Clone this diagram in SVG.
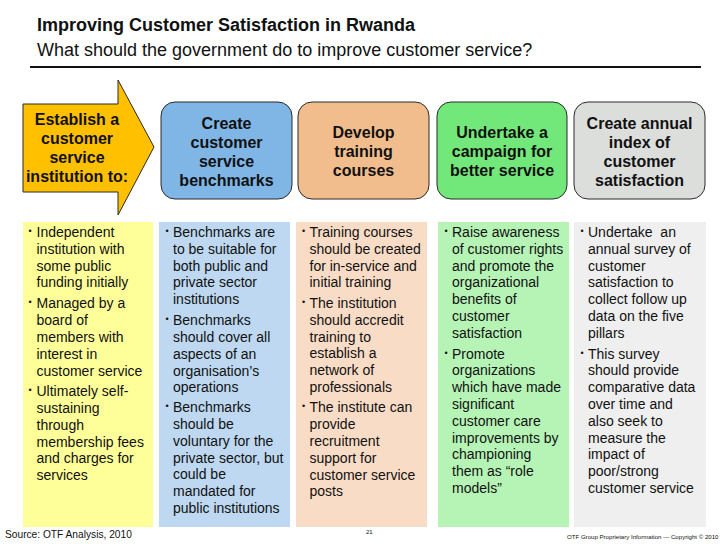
<svg xmlns="http://www.w3.org/2000/svg" width="728" height="546" viewBox="0 0 728 546">
<style>
.title{font-family:"Liberation Sans",Arial,sans-serif;font-size:18px;font-weight:bold;fill:#111}
.sub{font-family:"Liberation Sans",Arial,sans-serif;font-size:18px;fill:#111}
.hd{font-family:"Liberation Sans",Arial,sans-serif;font-size:16px;font-weight:bold;fill:#111;text-anchor:middle}
.bd{font-family:"Liberation Sans",Arial,sans-serif;font-size:14px;fill:#111}
.bl{font-family:"Liberation Sans",Arial,sans-serif;font-size:9px;fill:#111}
.box{stroke:#2a2a2a;stroke-width:1}
.foot{font-family:"Liberation Sans",Arial,sans-serif;fill:#111}
</style>
<rect width="728" height="546" fill="#fff"/>
<g id="header">
<text class="title" x="37" y="31">Improving Customer Satisfaction in Rwanda</text>
<text class="sub" x="37" y="56">What should the government do to improve customer service?</text>
<line x1="30" y1="67" x2="701" y2="67" stroke="#111" stroke-width="2"/>
</g>
<g id="connectors"/>
<g id="node-establish">
<polygon class="box" points="23,104 118,104 118,80 154,147 118,215 118,192 23,192" fill="#FFC000"/>
<text class="hd" x="77"><tspan x="77" y="124.5">Establish a</tspan><tspan x="77" y="143.5">customer</tspan><tspan x="77" y="162.5">service</tspan><tspan x="77" y="181.5">institution to:</tspan></text>
</g>
<g id="node-benchmarks">
<rect class="box" x="161" y="102" width="131" height="97" rx="14" fill="#7FB6E6"/>
<text class="hd"><tspan x="226.5" y="128.5">Create</tspan><tspan x="226.5" y="147.8">customer</tspan><tspan x="226.5" y="167">service</tspan><tspan x="226.5" y="186.3">benchmarks</tspan></text>
</g>
<g id="node-training">
<rect class="box" x="298" y="102" width="131" height="97" rx="14" fill="#F1BD8D"/>
<text class="hd"><tspan x="363.5" y="138">Develop</tspan><tspan x="363.5" y="157">training</tspan><tspan x="363.5" y="176">courses</tspan></text>
</g>
<g id="node-campaign">
<rect class="box" x="437" y="102" width="130" height="97" rx="14" fill="#73E87A"/>
<text class="hd"><tspan x="502" y="138">Undertake a</tspan><tspan x="502" y="157">campaign for</tspan><tspan x="502" y="176">better service</tspan></text>
</g>
<g id="node-index">
<rect class="box" x="574" y="102" width="131" height="97" rx="14" fill="#DCDEDC"/>
<text class="hd"><tspan x="639.5" y="128.5">Create annual</tspan><tspan x="639.5" y="147.8">index of</tspan><tspan x="639.5" y="167">customer</tspan><tspan x="639.5" y="186.3">satisfaction</tspan></text>
</g>
<g id="col-establish">
<rect x="23" y="222" width="130" height="305" fill="#FFFF99"/>
<text class="bl" x="28.5" y="234">•</text>
<text class="bd"><tspan x="36.5" y="237">Independent</tspan><tspan x="36.5" dy="16.8">institution with</tspan><tspan x="36.5" dy="16.8">some public</tspan><tspan x="36.5" dy="16.8">funding initially</tspan></text>
<text class="bl" x="28.5" y="305.4">•</text>
<text class="bd"><tspan x="36.5" y="308.4">Managed by a</tspan><tspan x="36.5" dy="16.8">board of</tspan><tspan x="36.5" dy="16.8">members with</tspan><tspan x="36.5" dy="16.8">interest in</tspan><tspan x="36.5" dy="16.8">customer service</tspan></text>
<text class="bl" x="28.5" y="393.2">•</text>
<text class="bd"><tspan x="36.5" y="396.2">Ultimately self-</tspan><tspan x="36.5" dy="16.8">sustaining</tspan><tspan x="36.5" dy="16.8">through</tspan><tspan x="36.5" dy="16.8">membership fees</tspan><tspan x="36.5" dy="16.8">and charges for</tspan><tspan x="36.5" dy="16.8">services</tspan></text>
</g>
<g id="col-benchmarks">
<rect x="159" y="222" width="131" height="305" fill="#BDD8F0"/>
<text class="bl" x="165.5" y="234">•</text>
<text class="bd"><tspan x="173" y="237">Benchmarks are</tspan><tspan x="173" dy="16.8">to be suitable for</tspan><tspan x="173" dy="16.8">both public and</tspan><tspan x="173" dy="16.8">private sector</tspan><tspan x="173" dy="16.8">institutions</tspan></text>
<text class="bl" x="165.5" y="322.2">•</text>
<text class="bd"><tspan x="173" y="325.2">Benchmarks</tspan><tspan x="173" dy="16.8">should cover all</tspan><tspan x="173" dy="16.8">aspects of an</tspan><tspan x="173" dy="16.8">organisation’s</tspan><tspan x="173" dy="16.8">operations</tspan></text>
<text class="bl" x="165.5" y="409.2">•</text>
<text class="bd"><tspan x="173" y="412.2">Benchmarks</tspan><tspan x="173" dy="16.8">should be</tspan><tspan x="173" dy="16.8">voluntary for the</tspan><tspan x="173" dy="16.8">private sector, but</tspan><tspan x="173" dy="16.8">could be</tspan><tspan x="173" dy="16.8">mandated for</tspan><tspan x="173" dy="16.8">public institutions</tspan></text>
</g>
<g id="col-training">
<rect x="296" y="222" width="131" height="305" fill="#F9DCC6"/>
<text class="bl" x="302" y="234">•</text>
<text class="bd"><tspan x="309.5" y="237">Training courses</tspan><tspan x="309.5" dy="16.8">should be created</tspan><tspan x="309.5" dy="16.8">for in-service and</tspan><tspan x="309.5" dy="16.8">initial training</tspan></text>
<text class="bl" x="302" y="305">•</text>
<text class="bd"><tspan x="309.5" y="308">The institution</tspan><tspan x="309.5" dy="16.8">should accredit</tspan><tspan x="309.5" dy="16.8">training to</tspan><tspan x="309.5" dy="16.8">establish a</tspan><tspan x="309.5" dy="16.8">network of</tspan><tspan x="309.5" dy="16.8">professionals</tspan></text>
<text class="bl" x="302" y="409.4">•</text>
<text class="bd"><tspan x="309.5" y="412.4">The institute can</tspan><tspan x="309.5" dy="16.8">provide</tspan><tspan x="309.5" dy="16.8">recruitment</tspan><tspan x="309.5" dy="16.8">support for</tspan><tspan x="309.5" dy="16.8">customer service</tspan><tspan x="309.5" dy="16.8">posts</tspan></text>
</g>
<g id="col-campaign">
<rect x="438" y="222" width="131" height="305" fill="#B6F4B6"/>
<text class="bl" x="444.5" y="234">•</text>
<text class="bd"><tspan x="452" y="237">Raise awareness</tspan><tspan x="452" dy="16.8">of customer rights</tspan><tspan x="452" dy="16.8">and promote the</tspan><tspan x="452" dy="16.8">organizational</tspan><tspan x="452" dy="16.8">benefits of</tspan><tspan x="452" dy="16.8">customer</tspan><tspan x="452" dy="16.8">satisfaction</tspan></text>
<text class="bl" x="444.5" y="355.6">•</text>
<text class="bd"><tspan x="452" y="358.6">Promote</tspan><tspan x="452" dy="16.8">organizations</tspan><tspan x="452" dy="16.8">which have made</tspan><tspan x="452" dy="16.8">significant</tspan><tspan x="452" dy="16.8">customer care</tspan><tspan x="452" dy="16.8">improvements by</tspan><tspan x="452" dy="16.8">championing</tspan><tspan x="452" dy="16.8">them as “role</tspan><tspan x="452" dy="16.8">models”</tspan></text>
</g>
<g id="col-index">
<rect x="574" y="222" width="132" height="305" fill="#EEEFEE"/>
<text class="bl" x="580.5" y="234">•</text>
<text class="bd" xml:space="preserve"><tspan x="588" y="237">Undertake  an</tspan><tspan x="588" dy="16.8">annual survey of</tspan><tspan x="588" dy="16.8">customer</tspan><tspan x="588" dy="16.8">satisfaction to</tspan><tspan x="588" dy="16.8">collect follow up</tspan><tspan x="588" dy="16.8">data on the five</tspan><tspan x="588" dy="16.8">pillars</tspan></text>
<text class="bl" x="580.5" y="355.6">•</text>
<text class="bd"><tspan x="588" y="358.6">This survey</tspan><tspan x="588" dy="16.8">should provide</tspan><tspan x="588" dy="16.8">comparative data</tspan><tspan x="588" dy="16.8">over time and</tspan><tspan x="588" dy="16.8">also seek to</tspan><tspan x="588" dy="16.8">measure the</tspan><tspan x="588" dy="16.8">impact of</tspan><tspan x="588" dy="16.8">poor/strong</tspan><tspan x="588" dy="16.8">customer service</tspan></text>
</g>
<g id="footer">
<text class="foot" x="5" y="538" font-size="10.2">Source: OTF Analysis, 2010</text>
<text class="foot" x="366" y="534" font-size="6">21</text>
<text class="foot" x="567" y="539" font-size="6.1">OTF Group Proprietary Information — Copyright © 2010</text>
</g>
</svg>
